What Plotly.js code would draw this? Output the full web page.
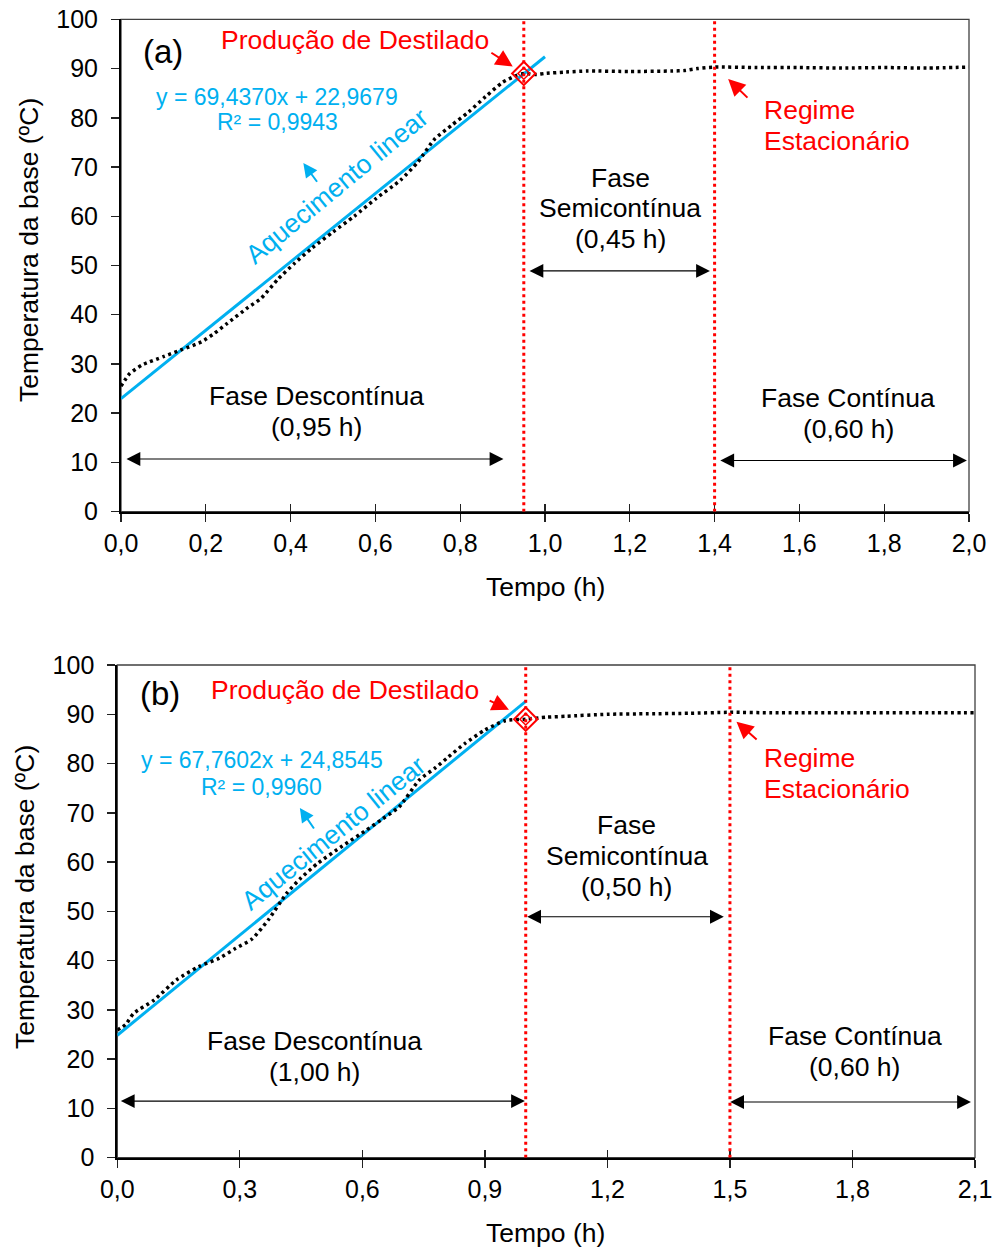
<!DOCTYPE html>
<html><head><meta charset="utf-8">
<script src="https://cdn.plot.ly/plotly-3.0.1.min.js"></script>
<style>html,body{margin:0;padding:0;background:#fff}#chart{width:994px;height:1249px}</style>
</head><body><div id="chart"></div>
<script>
// ---- data (a) ----
const timeA = [0, 0.02, 0.05, 0.1, 0.14, 0.19, 0.22, 0.25, 0.3, 0.33, 0.37, 0.41, 0.45, 0.5, 0.55, 0.6, 0.66, 0.7, 0.74, 0.78, 0.82, 0.86, 0.9, 0.93, 0.95, 0.98, 1.0, 1.05, 1.1, 1.2, 1.3, 1.33, 1.36, 1.4, 1.5, 1.6, 1.7, 1.8, 1.9, 2.0];
const tempA = [25.5, 28.0, 29.8, 31.5, 32.8, 34.5, 36.2, 38.2, 41.5, 43.3, 47.2, 50.5, 53.5, 56.8, 60.0, 63.5, 67.4, 71.0, 75.7, 78.5, 81.2, 84.3, 87.2, 88.5, 89.0, 88.8, 89.0, 89.3, 89.5, 89.4, 89.5, 89.6, 90.0, 90.3, 90.2, 90.2, 90.1, 90.2, 90.1, 90.3];
const fitTimeA = [0, 1.0];
const fitTempA = [22.97, 92.40];
const destTimeA = [0.95];
const destTempA = [89.0];
const phaseTimesA = [0.95, 1.4];
const xTickValsA = [0, 0.2, 0.4, 0.6, 0.8, 1.0, 1.2, 1.4, 1.6, 1.8, 2.0];
const xTickTextA = ['0,0','0,2','0,4','0,6','0,8','1,0','1,2','1,4','1,6','1,8','2,0'];

// ---- data (b) ----
const timeB = [0, 0.02, 0.04, 0.09, 0.145, 0.2, 0.25, 0.29, 0.33, 0.37, 0.415, 0.45, 0.49, 0.55, 0.61, 0.65, 0.69, 0.74, 0.78, 0.81, 0.85, 0.9, 0.95, 1.0, 1.05, 1.1, 1.2, 1.3, 1.4, 1.5, 1.6, 1.8, 2.0, 2.1];
const tempB = [25.9, 27.0, 29.3, 32.0, 36.1, 38.8, 40.5, 42.5, 44.4, 48.3, 53.7, 56.8, 59.7, 63.2, 66.5, 68.8, 71.2, 76.7, 79.2, 81.3, 84.0, 86.8, 88.7, 89.0, 89.4, 89.6, 90.0, 90.1, 90.2, 90.4, 90.3, 90.3, 90.3, 90.3];
const fitTimeB = [0, 1.0];
const fitTempB = [24.85, 92.61];
const destTimeB = [1.0];
const destTempB = [89.0];
const phaseTimesB = [1.0, 1.5];
const xTickValsB = [0, 0.3, 0.6, 0.9, 1.2, 1.5, 1.8, 2.1];
const xTickTextB = ['0,0','0,3','0,6','0,9','1,2','1,5','1,8','2,1'];

const yTickVals = [0, 10, 20, 30, 40, 50, 60, 70, 80, 90, 100];

const FONT = 'Liberation Sans, Arial, sans-serif';
const RED = '#ff0000', BLUE = '#00b0f0', BLACK = '#000000';

function panelTraces(t, T, ft, fT, dt, dT, xa, ya) {
  return [
    {x: ft, y: fT, xaxis: xa, yaxis: ya, type: 'scatter', mode: 'lines',
     line: {color: BLUE, width: 3}, hoverinfo: 'skip'},
    {x: t, y: T, xaxis: xa, yaxis: ya, type: 'scatter', mode: 'lines',
     line: {color: BLACK, width: 3.5, dash: '3px,3.5px', shape: 'spline', smoothing: 0.6}, hoverinfo: 'skip'},
    {x: dt, y: dT, xaxis: xa, yaxis: ya, type: 'scatter', mode: 'markers',
     marker: {symbol: 'diamond-open', size: 18, color: RED, line: {color: RED, width: 2}}, hoverinfo: 'skip'},
    {x: dt, y: dT, xaxis: xa, yaxis: ya, type: 'scatter', mode: 'markers',
     marker: {symbol: 'diamond-open', size: 9, color: RED, line: {color: RED, width: 1.5}}, hoverinfo: 'skip'}
  ];
}

const data = [
  ...panelTraces(timeA, tempA, fitTimeA, fitTempA, destTimeA, destTempA, 'x', 'y'),
  ...panelTraces(timeB, tempB, fitTimeB, fitTempB, destTimeB, destTempB, 'x2', 'y2'),
  {x: [], y: [], xaxis: 'x3', yaxis: 'y', type: 'scatter', hoverinfo: 'skip'},
  {x: [], y: [], xaxis: 'x4', yaxis: 'y2', type: 'scatter', hoverinfo: 'skip'}
];

const tickFont = {family: FONT, size: 25, color: BLACK};

function xAxis(domain, anchor, range, vals, text) {
  return {domain: domain, anchor: anchor, range: range, tickmode: 'array', tickvals: vals, ticktext: text,
    ticks: 'outside', ticklen: 8, tickwidth: 1.3, tickcolor: '#222', showline: true, linewidth: 2, linecolor: BLACK,
    showgrid: false, zeroline: false, tickfont: tickFont, ticklabelstandoff: 0, fixedrange: true};
}
function xOverlay(over, anchor, range, vals) {
  return {overlaying: over, anchor: anchor, range: range, tickmode: 'array', tickvals: vals, ticktext: vals.map(() => ''),
    ticks: 'inside', ticklen: 8, tickwidth: 1.3, tickcolor: '#222', showline: false, showgrid: false, zeroline: false,
    showticklabels: false, side: 'bottom', fixedrange: true};
}
function yAxis(domain, anchor) {
  return {domain: domain, anchor: anchor, range: [0, 100], tickmode: 'array', tickvals: yTickVals,
    ticks: 'outside', ticklen: 8, tickwidth: 1.5, tickcolor: '#222', showline: true, linewidth: 2, linecolor: BLACK,
    showgrid: false, zeroline: false, tickfont: tickFont, ticklabelstandoff: 8, fixedrange: true};
}

const shapes = [];
[['x', 'y'], ['x2', 'y2']].forEach(([xa, ya]) => {
  shapes.push({type: 'rect', xref: xa + ' domain', yref: ya + ' domain', x0: 0, x1: 1, y0: 0, y1: 1,
    line: {color: '#404040', width: 1.3}, layer: 'below'});
});
phaseTimesA.forEach(p => shapes.push({type: 'line', xref: 'x', yref: 'y', x0: p, x1: p, y0: 0, y1: 100,
  line: {color: RED, width: 3, dash: '3px,3.5px'}, layer: 'above'}));
phaseTimesB.forEach(p => shapes.push({type: 'line', xref: 'x2', yref: 'y2', x0: p, x1: p, y0: 0, y1: 100,
  line: {color: RED, width: 3, dash: '3px,3.5px'}, layer: 'above'}));

function txt(xa, ya, x, y, text, size, color, extra) {
  return Object.assign({xref: xa, yref: ya, x: x, y: y, text: text, showarrow: false,
    font: {family: FONT, size: size, color: color}, xanchor: 'center', yanchor: 'middle'}, extra || {});
}
function arrow(xa, ya, hx, hy, tx, ty, color, w, s, both) {
  const a = {xref: xa, yref: ya, axref: xa, ayref: ya, x: hx, y: hy, ax: tx, ay: ty, text: '',
    showarrow: true, arrowhead: 2, arrowwidth: w, arrowsize: s, arrowcolor: color, standoff: 0, startstandoff: 0};
  if (both) { a.arrowside = 'end+start'; a.startarrowhead = 2; a.startarrowsize = s; }
  return a;
}

const FS = 26.5;
const annotations = [
  // axis titles
  txt('paper', 'paper', 29/994, 1 - 250/1249, 'Temperatura da base (ºC)', 26.5, BLACK, {textangle: -90}),
  txt('paper', 'paper', 545/994, 1 - 587/1249, 'Tempo (h)', 26.5, BLACK),
  txt('paper', 'paper', 25/994, 1 - 897/1249, 'Temperatura da base (ºC)', 26.5, BLACK, {textangle: -90}),
  txt('paper', 'paper', 545/994, 1 - 1233/1249, 'Tempo (h)', 26.5, BLACK),

  // panel (a)
  txt('x', 'y', 0.099, 93.4, '(a)', 33, BLACK),
  txt('x', 'y', 0.552, 95.8, 'Produção de Destilado', FS, RED),
  arrow('x', 'y', 0.924, 90.4, 0.870, 93.4, RED, 2, 1.7, false),
  txt('x', 'y', 0.368, 84.2, 'y = 69,4370x + 22,9679', 23, BLUE),
  txt('x', 'y', 0.368, 79.2, 'R² = 0,9943', 23, BLUE),
  txt('x', 'y', 0.509, 66.2, 'Aquecimento linear', 26.5, BLUE, {textangle: -39.5}),
  arrow('x', 'y', 0.430, 70.8, 0.465, 66.7, BLUE, 2, 1.4, false),
  txt('x', 'y', 0.462, 23.5, 'Fase Descontínua', FS, BLACK),
  txt('x', 'y', 0.462, 17.25, '(0,95 h)', FS, BLACK),
  arrow('x', 'y', 0.902, 10.7, 0.0094, 10.7, BLACK, 1.2, 2.3, true),
  txt('x', 'y', 1.177, 67.8, 'Fase', FS, BLACK),
  txt('x', 'y', 1.177, 61.7, 'Semicontínua', FS, BLACK),
  txt('x', 'y', 1.177, 55.4, '(0,45 h)', FS, BLACK),
  arrow('x', 'y', 1.389, 48.9, 0.96, 48.9, BLACK, 1.2, 2.3, true),
  txt('x', 'y', 1.715, 23.1, 'Fase Contínua', FS, BLACK),
  txt('x', 'y', 1.715, 16.8, '(0,60 h)', FS, BLACK),
  arrow('x', 'y', 1.995, 10.4, 1.41, 10.4, BLACK, 1.2, 2.3, true),
  txt('x', 'y', 1.512, 81.6, 'Regime', FS, RED, {xanchor: 'left'}),
  txt('x', 'y', 1.512, 75.3, 'Estacionário', FS, RED, {xanchor: 'left'}),
  arrow('x', 'y', 1.432, 87.9, 1.481, 83.8, RED, 2, 1.7, false),

  // panel (b)
  txt('x2', 'y2', 0.1045, 94.3, '(b)', 33, BLACK),
  txt('x2', 'y2', 0.557, 94.9, 'Produção de Destilado', FS, RED),
  arrow('x2', 'y2', 0.959, 90.9, 0.908, 92.9, RED, 2, 1.7, false),
  txt('x2', 'y2', 0.354, 80.7, 'y = 67,7602x + 24,8545', 23, BLUE),
  txt('x2', 'y2', 0.354, 75.3, 'R² = 0,9960', 23, BLUE),
  txt('x2', 'y2', 0.530, 65.9, 'Aquecimento linear', 26.5, BLUE, {textangle: -38.9}),
  arrow('x2', 'y2', 0.447, 71.0, 0.484, 66.5, BLUE, 2, 1.4, false),
  txt('x2', 'y2', 0.484, 23.7, 'Fase Descontínua', FS, BLACK),
  txt('x2', 'y2', 0.484, 17.4, '(1,00 h)', FS, BLACK),
  arrow('x2', 'y2', 0.998, 11.5, 0.005, 11.5, BLACK, 1.2, 2.3, true),
  txt('x2', 'y2', 1.247, 67.5, 'Fase', FS, BLACK),
  txt('x2', 'y2', 1.247, 61.2, 'Semicontínua', FS, BLACK),
  txt('x2', 'y2', 1.247, 54.9, '(0,50 h)', FS, BLACK),
  arrow('x2', 'y2', 1.485, 48.9, 1.0, 48.9, BLACK, 1.2, 2.3, true),
  txt('x2', 'y2', 1.806, 24.7, 'Fase Contínua', FS, BLACK),
  txt('x2', 'y2', 1.806, 18.4, '(0,60 h)', FS, BLACK),
  arrow('x2', 'y2', 2.09, 11.3, 1.497, 11.3, BLACK, 1.2, 2.3, true),
  txt('x2', 'y2', 1.578, 81.1, 'Regime', FS, RED, {xanchor: 'left'}),
  txt('x2', 'y2', 1.578, 74.8, 'Estacionário', FS, RED, {xanchor: 'left'}),
  arrow('x2', 'y2', 1.516, 88.5, 1.569, 84.6, RED, 2, 1.7, false)
];

const layout = {
  width: 994, height: 1249,
  margin: {l: 0, r: 0, t: 0, b: 0, pad: 0},
  paper_bgcolor: '#ffffff', plot_bgcolor: 'rgba(0,0,0,0)',
  showlegend: false,
  font: {family: FONT, color: BLACK},
  xaxis: xAxis([121/994, 969/994], 'y', [0, 2.0], xTickValsA, xTickTextA),
  yaxis: yAxis([1 - 511.7/1249, 1 - 19.3/1249], 'x'),
  xaxis2: xAxis([117.3/994, 975/994], 'y2', [0, 2.1], xTickValsB, xTickTextB),
  yaxis2: yAxis([1 - 1157.7/1249, 1 - 665/1249], 'x2'),
  xaxis3: xOverlay('x', 'y', [0, 2.0], xTickValsA),
  xaxis4: xOverlay('x2', 'y2', [0, 2.1], xTickValsB),
  shapes: shapes,
  annotations: annotations
};

Plotly.newPlot('chart', data, layout, {displayModeBar: false, staticPlot: true});
</script>
</body></html>
